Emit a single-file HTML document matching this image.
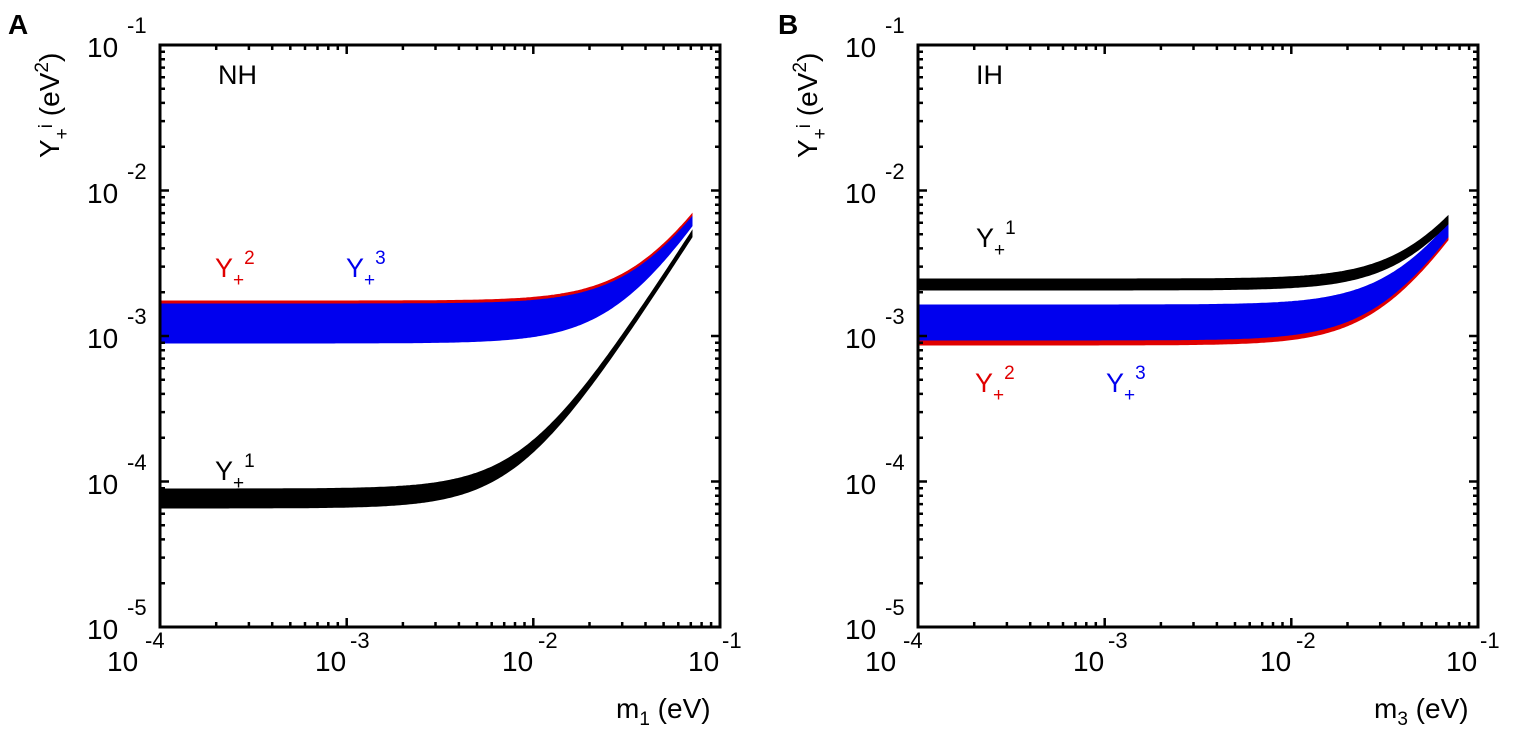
<!DOCTYPE html>
<html><head><meta charset="utf-8"><style>
html,body{margin:0;padding:0;background:#fff;}
svg{display:block;font-family:"Liberation Sans",Arial,sans-serif;}
</style></head><body>
<svg id="s" width="1522" height="743" viewBox="0 0 1522 743" xmlns="http://www.w3.org/2000/svg">

<text x="8" y="34" font-size="28" font-weight="bold">A</text>
<text x="778" y="34" font-size="28" font-weight="bold">B</text>

<g id="data"></g>

<text x="218" y="84" font-size="27">NH</text>
<text x="215" y="277" font-size="27" fill="#e00000">Y<tspan font-size="19" dy="9">+</tspan><tspan font-size="19" dy="-22">2</tspan></text>
<text x="346" y="277" font-size="27" fill="#0000ee">Y<tspan font-size="19" dy="9">+</tspan><tspan font-size="19" dy="-22">3</tspan></text>
<text x="215" y="480" font-size="27">Y<tspan font-size="19" dy="9">+</tspan><tspan font-size="19" dy="-22">1</tspan></text>

<text x="976" y="84" font-size="27">IH</text>
<text x="976" y="247" font-size="27">Y<tspan font-size="19" dy="9">+</tspan><tspan font-size="19" dy="-22">1</tspan></text>
<text x="975" y="392" font-size="27" fill="#e00000">Y<tspan font-size="19" dy="9">+</tspan><tspan font-size="19" dy="-22">2</tspan></text>
<text x="1106" y="392" font-size="27" fill="#0000ee">Y<tspan font-size="19" dy="9">+</tspan><tspan font-size="19" dy="-22">3</tspan></text>

<g stroke="#000" stroke-width="3" fill="none">
<rect x="160" y="45" width="560" height="582"/>
<rect x="918" y="45" width="560" height="582"/>
</g>
<g stroke="#000" stroke-width="2.5" fill="none">
<path id="tkA" d="
M346.7,627v-9 M533.3,627v-9 M346.7,45v9 M533.3,45v9
M216.2,627v-5 M248.9,627v-5 M272.2,627v-5 M290.3,627v-5 M305.0,627v-5 M317.5,627v-5 M328.3,627v-5 M337.8,627v-5
M402.9,627v-5 M435.5,627v-5 M458.9,627v-5 M477.0,627v-5 M491.7,627v-5 M504.2,627v-5 M515.0,627v-5 M524.5,627v-5
M589.5,627v-5 M622.2,627v-5 M645.5,627v-5 M663.6,627v-5 M678.3,627v-5 M690.8,627v-5 M701.6,627v-5 M711.1,627v-5
M216.2,45v5 M248.9,45v5 M272.2,45v5 M290.3,45v5 M305.0,45v5 M317.5,45v5 M328.3,45v5 M337.8,45v5
M402.9,45v5 M435.5,45v5 M458.9,45v5 M477.0,45v5 M491.7,45v5 M504.2,45v5 M515.0,45v5 M524.5,45v5
M589.5,45v5 M622.2,45v5 M645.5,45v5 M663.6,45v5 M678.3,45v5 M690.8,45v5 M701.6,45v5 M711.1,45v5
M160,190.5h9 M160,336h9 M160,481.5h9 M720,190.5h-9 M720,336h-9 M720,481.5h-9
M160,146.7h5 M160,121.1h5 M160,102.9h5 M160,88.8h5 M160,77.3h5 M160,67.6h5 M160,59.2h5 M160,51.7h5
M160,292.2h5 M160,266.6h5 M160,248.4h5 M160,234.3h5 M160,222.8h5 M160,213.1h5 M160,204.7h5 M160,197.2h5
M160,437.7h5 M160,412.1h5 M160,393.9h5 M160,379.8h5 M160,368.3h5 M160,358.6h5 M160,350.2h5 M160,342.7h5
M160,583.2h5 M160,557.6h5 M160,539.4h5 M160,525.3h5 M160,513.8h5 M160,504.1h5 M160,495.7h5 M160,488.2h5
M720,146.7h-5 M720,121.1h-5 M720,102.9h-5 M720,88.8h-5 M720,77.3h-5 M720,67.6h-5 M720,59.2h-5 M720,51.7h-5
M720,292.2h-5 M720,266.6h-5 M720,248.4h-5 M720,234.3h-5 M720,222.8h-5 M720,213.1h-5 M720,204.7h-5 M720,197.2h-5
M720,437.7h-5 M720,412.1h-5 M720,393.9h-5 M720,379.8h-5 M720,368.3h-5 M720,358.6h-5 M720,350.2h-5 M720,342.7h-5
M720,583.2h-5 M720,557.6h-5 M720,539.4h-5 M720,525.3h-5 M720,513.8h-5 M720,504.1h-5 M720,495.7h-5 M720,488.2h-5"/>
<use href="#tkA" transform="translate(758,0)"/>
</g>

<g font-size="28" fill="#000">
<g id="lblA">
<text x="87" y="57">10</text><text x="127" y="33" font-size="22">-1</text>
<text x="87" y="203">10</text><text x="127" y="179" font-size="22">-2</text>
<text x="87" y="348">10</text><text x="127" y="324" font-size="22">-3</text>
<text x="87" y="494">10</text><text x="127" y="470" font-size="22">-4</text>
<text x="87" y="639">10</text><text x="127" y="615" font-size="22">-5</text>
<text x="107" y="671">10</text><text x="145" y="648" font-size="22">-4</text>
<text x="315" y="671">10</text><text x="350" y="648" font-size="22">-3</text>
<text x="502" y="671">10</text><text x="538" y="648" font-size="22">-2</text>
<text x="688" y="671">10</text><text x="722" y="648" font-size="22">-1</text>
</g>
<use href="#lblA" transform="translate(758,0)"/>
</g>

<text x="616" y="718" font-size="28">m<tspan font-size="19" dy="7">1</tspan><tspan dy="-7"> (eV)</tspan></text>
<text x="1374" y="718" font-size="28">m<tspan font-size="19" dy="7">3</tspan><tspan dy="-7"> (eV)</tspan></text>
<text transform="translate(59,158) rotate(-90)" font-size="28">Y<tspan font-size="19" dy="9">+</tspan><tspan font-size="19" dy="-16">i</tspan><tspan dy="7"> (eV</tspan><tspan font-size="19" dy="-11">2</tspan><tspan dy="11">)</tspan></text>
<text transform="translate(817,158) rotate(-90)" font-size="28">Y<tspan font-size="19" dy="9">+</tspan><tspan font-size="19" dy="-16">i</tspan><tspan dy="7"> (eV</tspan><tspan font-size="19" dy="-11">2</tspan><tspan dy="11">)</tspan></text>
</svg>
<script>
(function(){
  var g=document.getElementById('data');
  function band(x0,xend,t,b,col){
    // t,b: [y0pix, endpix]
    var mEnd=Math.pow(10,-4+(xend-x0)/186.667);
    function mk(p){
      var Y0=Math.pow(10,-1-(p[0]-45)/145.5);
      var Ye=Math.pow(10,-1-(p[1]-45)/145.5);
      var c=(Ye-Y0)/(mEnd*mEnd);
      return function(x){var m=Math.pow(10,-4+(x-x0)/186.667);var Y=Y0+c*m*m;return 45+(-1-Math.log10(Y))*145.5;};
    }
    var ft=mk(t),fb=mk(b),pts=[],x;
    for(x=x0;x<=xend;x+=2)pts.push(x.toFixed(1)+','+ft(x).toFixed(1));
    pts.push(xend+','+ft(xend).toFixed(1));
    pts.push(xend+','+fb(xend).toFixed(1));
    for(x=xend;x>=x0;x-=2)pts.push(x.toFixed(1)+','+fb(x).toFixed(1));
    var p=document.createElementNS('http://www.w3.org/2000/svg','polygon');
    p.setAttribute('points',pts.join(' '));p.setAttribute('fill',col);
    p.setAttribute('stroke',col);p.setAttribute('stroke-width','1');
    g.appendChild(p);
  }
  // Panel A
  band(160,692,[301,214],[310,222],'#e00000');
  band(160,692,[304,217],[343,226],'#0000ee');
  band(160,692,[489,231],[508,237],'#000');
  // Panel B
  band(918,1448,[338,234],[345,240],'#e00000');
  band(918,1448,[305,224],[340,237],'#0000ee');
  band(918,1448,[279,216],[290,224],'#000');
})();
</script>
</body></html>
